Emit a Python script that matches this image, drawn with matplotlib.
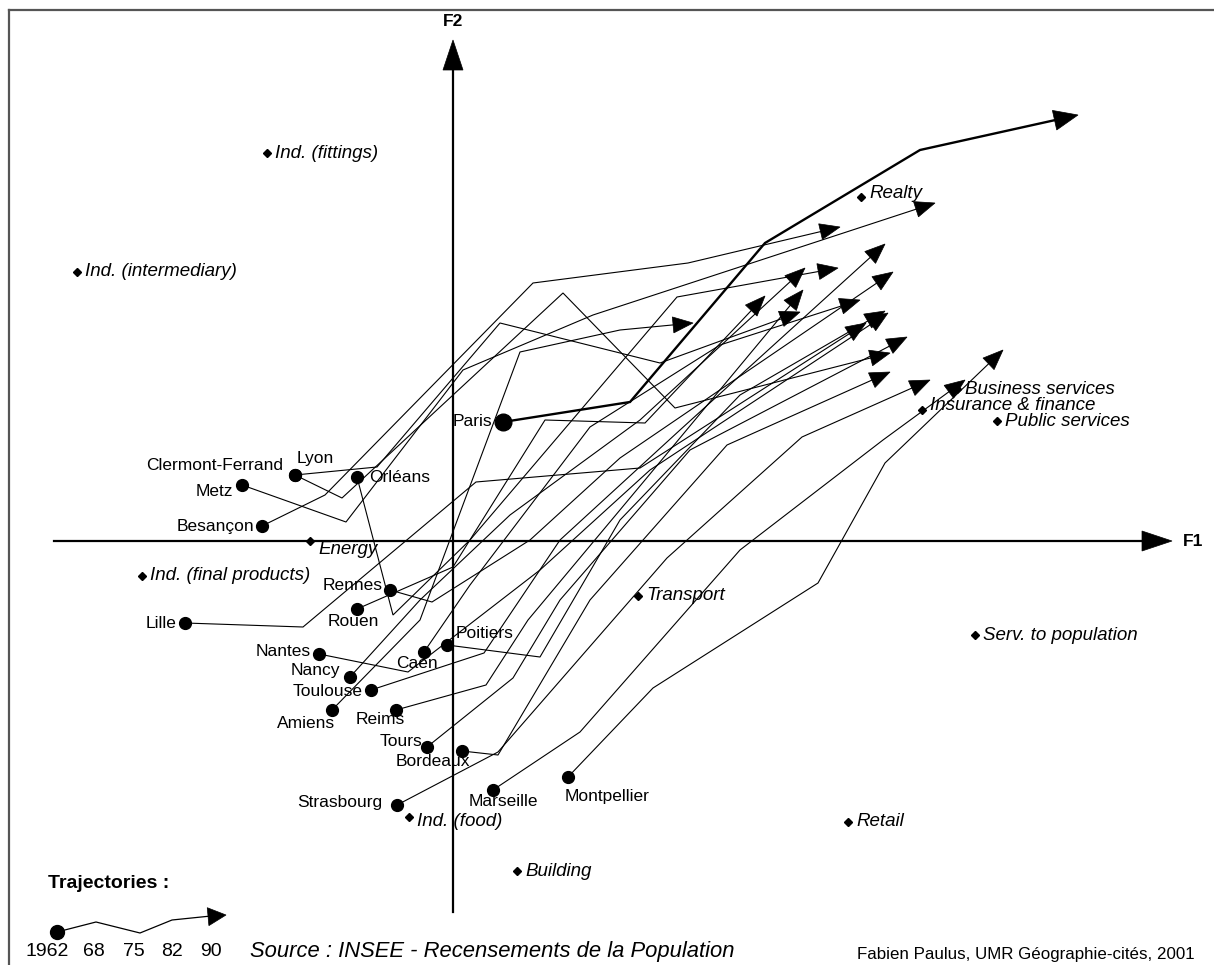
import numpy as np
import matplotlib
matplotlib.use("Agg")
import matplotlib.pyplot as plt
from matplotlib.patches import Polygon

plt.rcParams["font.family"] = ["Liberation Sans", "DejaVu Sans"]

# Trajectories of the cities on the first factorial plane, 1962 -> 68 -> 75 -> 82 -> 90
cities = ["Paris", "Besançon", "Lyon", "Clermont-Ferrand", "Metz", "Orléans", "Rennes",
          "Rouen", "Lille", "Nantes", "Caen", "Poitiers", "Nancy", "Toulouse", "Amiens",
          "Reims", "Tours", "Bordeaux", "Strasbourg", "Marseille", "Montpellier"]

traj_f1 = [
    [0.50, 1.77, 3.12, 4.67, 6.25],
    [-1.91, -1.28, 0.80, 2.35, 3.87],
    [-1.58, -0.76, 0.47, 2.07, 3.47],
    [-1.58, -1.11, 1.10, 2.22, 4.37],
    [-2.11, -1.07, 0.10, 1.40, 4.82],
    [-0.96, -0.60, 0.17, 2.24, 3.85],
    [-0.63, -0.21, 0.77, 1.67, 4.40],
    [-0.96, 0.00, 0.92, 1.92, 3.12],
    [-2.68, -1.50, 0.23, 1.87, 4.13],
    [-1.34, -0.45, 0.87, 1.97, 4.35],
    [-0.29, 0.17, 1.37, 2.67, 4.07],
    [-0.06, 0.87, 1.67, 2.87, 4.32],
    [-1.03, -0.33, 0.57, 1.87, 3.52],
    [-0.82, 0.31, 1.07, 2.27, 4.32],
    [-1.21, -0.33, 0.67, 1.67, 2.40],
    [-0.57, 0.33, 0.75, 1.92, 3.50],
    [-0.26, 0.60, 1.07, 2.37, 4.54],
    [0.09, 0.45, 1.37, 2.74, 4.37],
    [-0.56, 0.45, 2.14, 3.49, 4.77],
    [0.40, 1.27, 2.87, 4.30, 5.12],
    [1.15, 2.00, 3.65, 4.32, 5.50],
]
traj_f2 = [
    [1.19, 1.39, 2.98, 3.91, 4.26],
    [0.15, 0.46, 2.58, 2.78, 3.14],
    [0.66, 0.74, 2.18, 1.78, 2.29],
    [0.66, 0.43, 2.48, 1.33, 1.88],
    [0.56, 0.19, 1.71, 2.26, 3.38],
    [0.64, -0.74, 0.01, 2.44, 2.73],
    [-0.49, -0.61, 0.01, 0.83, 2.69],
    [-0.68, -0.26, 1.21, 1.18, 2.45],
    [-0.82, -0.86, 0.59, 0.73, 2.18],
    [-1.13, -1.31, -0.29, 0.71, 2.28],
    [-1.11, -0.44, 1.14, 1.96, 2.41],
    [-1.04, -1.16, 0.21, 1.46, 2.30],
    [-1.36, -0.59, 0.26, 1.21, 2.73],
    [-1.49, -1.12, 0.01, 1.11, 2.97],
    [-1.69, -0.79, 1.89, 2.11, 2.18],
    [-1.69, -1.44, -0.79, 0.61, 2.51],
    [-2.06, -1.37, -0.59, 0.91, 2.04],
    [-2.10, -2.14, -0.59, 0.96, 1.69],
    [-2.64, -2.11, -0.17, 1.04, 1.61],
    [-2.49, -1.91, -0.09, 1.01, 1.61],
    [-2.36, -1.47, -0.42, 0.78, 1.91],
]

# Activity sectors (variables)
sectors = ["Ind. (fittings)", "Ind. (intermediary)", "Realty", "Business services",
           "Insurance & finance", "Public services", "Energy", "Ind. (final products)",
           "Transport", "Serv. to population", "Ind. (food)", "Retail", "Building"]
sector_f1 = [-1.86, -3.76, 4.08, 5.04, 4.69, 5.44, -1.43, -3.11, 1.85, 5.22, -0.44, 3.95, 0.64]
sector_f2 = [3.88, 2.69, 3.44, 1.52, 1.31, 1.20, 0.00, -0.35, -0.55, -0.94, -2.76, -2.81, -3.30]

# Legend sketch
legend_years = ["1962", "68", "75", "82", "90"]
legend_f1 = [-3.96, -3.57, -3.13, -2.81, -2.27]
legend_f2 = [-3.91, -3.81, -3.92, -3.79, -3.74]

# label placement (offset from the 1962 dot, alignment)
city_lbl = {
    "Paris": (-0.11, 0.0, "right"), "Besançon": (-0.08, 0.0, "right"),
    "Lyon": (0.02, 0.16, "left"), "Clermont-Ferrand": (-0.12, 0.09, "right"),
    "Metz": (-0.09, -0.06, "right"), "Orléans": (0.12, -0.01, "left"),
    "Rennes": (-0.07, 0.04, "right"), "Rouen": (-0.04, -0.12, "center"),
    "Lille": (-0.09, 0.0, "right"), "Nantes": (-0.08, 0.02, "right"),
    "Caen": (-0.07, -0.11, "center"), "Poitiers": (0.09, 0.12, "left"),
    "Nancy": (-0.10, 0.07, "right"), "Toulouse": (-0.08, -0.01, "right"),
    "Amiens": (-0.26, -0.14, "center"), "Reims": (-0.16, -0.10, "center"),
    "Tours": (-0.05, 0.06, "right"), "Bordeaux": (-0.29, -0.11, "center"),
    "Strasbourg": (-0.15, 0.02, "right"), "Marseille": (0.10, -0.11, "center"),
    "Montpellier": (0.39, -0.20, "center"),
}
sector_lbl = {"Realty": 0.04, "Insurance & finance": 0.05, "Energy": -0.08,
              "Ind. (food)": -0.04}


def head(ax, p0, p1, length, half):
    p0 = np.asarray(p0, float)
    p1 = np.asarray(p1, float)
    d = (p1 - p0) / np.hypot(*(p1 - p0))
    n = np.array([-d[1], d[0]])
    base = p1 - d * length
    ax.add_patch(Polygon([p1, base + n * half, base - n * half], closed=True,
                         facecolor="black", edgecolor="black", lw=0.5, zorder=4))


fig = plt.figure(figsize=(12.14, 9.65), dpi=100)
ax = fig.add_axes([0, 0, 1, 1])
ax.set_xlim(-4.53, 7.61)
ax.set_ylim(-4.24, 5.41)
ax.axis("off")

# frame (cut on the right and bottom)
ax.plot([-4.44, 7.61], [5.31, 5.31], color="#555555", lw=1.6)
ax.plot([-4.44, -4.44], [5.31, -4.24], color="#555555", lw=1.6)

# factorial axes
ax.plot([-3.99, 7.0], [0, 0], color="black", lw=1.6, zorder=2)
head(ax, (0, 0), (7.19, 0), 0.30, 0.10)
ax.text(7.40, 0.0, "F1", fontsize=12.5, fontweight="bold", ha="center", va="center")
ax.plot([0, 0], [-3.71, 4.85], color="black", lw=1.6, zorder=2)
head(ax, (0, 0), (0, 5.01), 0.30, 0.10)
ax.text(0.0, 5.19, "F2", fontsize=12.5, fontweight="bold", ha="center", va="center")

# trajectories
for name, xs, ys in zip(cities, traj_f1, traj_f2):
    big = name == "Paris"
    L, H = (0.24, 0.10) if big else (0.20, 0.08)
    p0 = np.array([xs[-2], ys[-2]])
    p1 = np.array([xs[-1], ys[-1]])
    d = (p1 - p0) / np.hypot(*(p1 - p0))
    lx = list(xs[:-1]) + [xs[-1] - d[0] * L * 0.8]
    ly = list(ys[:-1]) + [ys[-1] - d[1] * L * 0.8]
    ax.plot(lx, ly, color="black", lw=1.7 if big else 0.8, zorder=3,
            solid_joinstyle="miter")
    head(ax, p0, p1, L, H)
    ax.plot(xs[0], ys[0], "o", color="black", ms=12 if big else 8.5, zorder=5)
    dx, dy, ha = city_lbl[name]
    ax.text(xs[0] + dx, ys[0] + dy, name, fontsize=12.5, ha=ha, va="center", zorder=6)

# sectors
for name, x, y in zip(sectors, sector_f1, sector_f2):
    ax.plot(x, y, "D", color="black", ms=4.5, zorder=5)
    dy = sector_lbl.get(name, 0.0)
    ax.text(x + 0.08, y + dy, name, fontsize=13.5, style="italic", ha="left",
            va="center", zorder=6)

# legend
ax.text(-4.05, -3.43, "Trajectories :", fontsize=14, fontweight="bold", ha="left",
        va="center")
ax.plot(legend_f1[:-1] + [legend_f1[-1] - 0.15], legend_f2[:-1] + [legend_f2[-1] - 0.01],
        color="black", lw=0.9)
head(ax, (legend_f1[-2], legend_f2[-2]), (legend_f1[-1], legend_f2[-1]), 0.18, 0.09)
ax.plot(legend_f1[0], legend_f2[0], "o", color="black", ms=10)
for yr, x in zip(legend_years, [-4.06, -3.59, -3.19, -2.81, -2.42]):
    ax.text(x, -4.11, yr, fontsize=14, ha="center", va="center")

ax.text(-2.03, -4.11, "Source : INSEE - Recensements de la Population", fontsize=15.8,
        style="italic", ha="left", va="center")
ax.text(7.42, -4.14, "Fabien Paulus, UMR Géographie-cités, 2001", fontsize=12.2,
        ha="right", va="center")

fig.savefig("out.png", dpi=100)
